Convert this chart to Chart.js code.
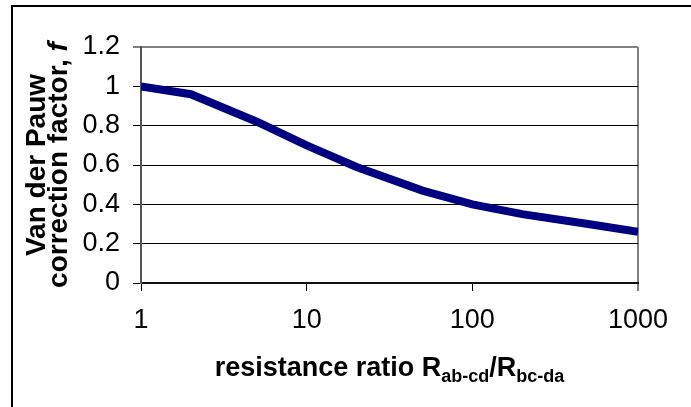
<!DOCTYPE html>
<html>
<head>
<meta charset="utf-8">
<script src="https://cdn.jsdelivr.net/npm/chart.js@4/dist/chart.umd.min.js"></script>
<style>
body { margin: 0; background: #fff; }
#frame { position: absolute; left: 11px; top: 5px; width: 700px; height: 420px; border-left: 2px solid #000; border-top: 2px solid #000; }
#wrap { position: absolute; left: 0; top: 0; width: 691px; height: 407px; }
</style>
</head>
<body>
<div id="frame"></div>
<div id="wrap"><canvas id="lineChart" width="691" height="407"></canvas></div>
<script>
// resistance ratio (x, log) and correction factor f
var ratios = [1, 2, 5, 10, 20, 50, 100, 200, 500, 1000];
var factors = [1.0, 0.96, 0.82, 0.70, 0.59, 0.47, 0.40, 0.35, 0.30, 0.26];
var xTicks = [1, 10, 100, 1000];
var yTicks = [0, 0.2, 0.4, 0.6, 0.8, 1, 1.2];

var FONT = '"Liberation Sans", Arial, sans-serif';

var points = [];
for (var i = 0; i < ratios.length; i++) {
	points.push({ x : ratios[i], y : factors[i] });
}

// axis titles with sub scripts / italic f
var titlePlugin = {
	id : 'axisTitles',
	afterDraw : function(chart) {
		var ctx = chart.ctx;
		var area = chart.chartArea;
		ctx.save();
		ctx.fillStyle = '#000';
		ctx.textBaseline = 'alphabetic';

		// x title
		var big = 'bold 27px ' + FONT;
		var small = 'bold 18px ' + FONT;
		var parts = [
			[ 'resistance ratio R', big, 0 ],
			[ 'ab-cd', small, 6 ],
			[ '/R', big, 0 ],
			[ 'bc-da', small, 6 ]
		];
		var total = 0;
		parts.forEach(function(p) {
			ctx.font = p[1];
			total += ctx.measureText(p[0]).width;
		});
		var x = (area.left + area.right) / 2 - total / 2;
		var y = 376;
		parts.forEach(function(p) {
			ctx.font = p[1];
			ctx.fillText(p[0], x, y + p[2]);
			x += ctx.measureText(p[0]).width;
		});

		// y title, two lines rotated
		var yBig = 'bold 28px ' + FONT;
		var fontI = 'italic bold 28px ' + FONT;
		var cy = (area.top + area.bottom) / 2;
		ctx.translate(0, cy);
		ctx.rotate(-Math.PI / 2);
		ctx.textAlign = 'left';
		ctx.font = yBig;
		var w1 = ctx.measureText('Van der Pauw').width;
		ctx.fillText('Van der Pauw', -w1 / 2, 45);
		var l2a = 'correction factor, ';
		var wa = ctx.measureText(l2a).width;
		ctx.font = fontI;
		var wb = ctx.measureText('f').width;
		var sx = -(wa + wb) / 2;
		ctx.font = yBig;
		ctx.fillText(l2a, sx, 67);
		ctx.font = fontI;
		ctx.fillText('f', sx + wa, 67);
		ctx.restore();
	}
};

var ctx = document.getElementById('lineChart');
var lineChart = new Chart(ctx, {
	type : 'line',
	data : {
		datasets : [ {
			label : 'f',
			data : points,
			borderColor : '#000080',
			backgroundColor : '#000080',
			borderWidth : 8,
			pointRadius : 0,
			tension : 0,
			fill : false
		} ]
	},
	options : {
		responsive : false,
		animation : false,
		events : [],
		layout : {
			padding : { left : 0, top : 47, right : 53, bottom : 0 }
		},
		plugins : {
			legend : { display : false },
			tooltip : { enabled : false }
		},
		scales : {
			x : {
				type : 'logarithmic',
				min : 1,
				max : 1000,
				afterBuildTicks : function(scale) {
					scale.ticks = xTicks.map(function(v) { return { value : v }; });
				},
				afterFit : function(scale) {
					scale.height = 124;
				},
				ticks : {
					autoSkip : false,
					maxRotation : 0,
					padding : 13,
					color : '#000',
					font : { family : FONT, size : 27 },
					callback : function(v) { return String(v); }
				},
				grid : {
					drawOnChartArea : true,
					tickLength : 8,
					lineWidth : function(c) { return c.tick && c.tick.value === 1000 ? 2 : 1; },
					color : function(c) { return c.tick && c.tick.value === 1000 ? '#808080' : 'rgba(0,0,0,0)'; },
					tickColor : '#000',
					tickWidth : 1
				},
				border : { color : '#111', width : 2 }
			},
			y : {
				min : 0,
				max : 1.2,
				afterBuildTicks : function(scale) {
					scale.ticks = yTicks.map(function(v) { return { value : v }; });
				},
				afterFit : function(scale) {
					scale.width = 141;
				},
				ticks : {
					padding : 13,
					color : '#000',
					font : { family : FONT, size : 27 },
					callback : function(v) { return String(Math.round(v * 10) / 10); }
				},
				grid : {
					tickLength : 8,
					lineWidth : function(c) { return c.tick && c.tick.value === 1.2 ? 2 : 1; },
					color : function(c) {
						if (c.tick && c.tick.value === 1.2) return '#808080';
						if (c.tick && c.tick.value === 0) return 'rgba(0,0,0,0)';
						return '#000';
					},
					tickColor : '#000',
					tickWidth : 1
				},
				border : { color : '#555', width : 2 }
			}
		}
	},
	plugins : [ titlePlugin ]
});
</script>
</body>
</html>
